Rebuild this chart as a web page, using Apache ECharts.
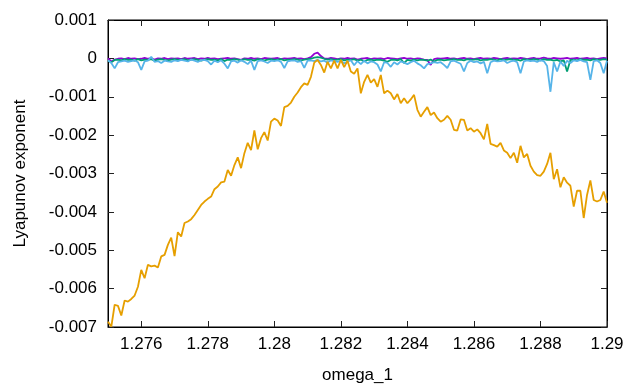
<!DOCTYPE html>
<html>
<head>
<meta charset="utf-8">
<script src="https://cdn.jsdelivr.net/npm/echarts@6/dist/echarts.min.js"></script>
<style>html,body{margin:0;padding:0;background:#fff}#c{width:631px;height:389px}</style>
</head>
<body>
<div id="c"></div>
<script>
const omega = [1.2750,1.2751,1.2752,1.2753,1.2754,1.2755,1.2756,1.2757,1.2758,1.2759,
1.2760,1.2761,1.2762,1.2763,1.2764,1.2765,1.2766,1.2767,1.2768,1.2769,
1.2770,1.2771,1.2772,1.2773,1.2774,1.2775,1.2776,1.2777,1.2778,1.2779,
1.2780,1.2781,1.2782,1.2783,1.2784,1.2785,1.2786,1.2787,1.2788,1.2789,
1.2790,1.2791,1.2792,1.2793,1.2794,1.2795,1.2796,1.2797,1.2798,1.2799,
1.2800,1.2801,1.2802,1.2803,1.2804,1.2805,1.2806,1.2807,1.2808,1.2809,
1.2810,1.2811,1.2812,1.2813,1.2814,1.2815,1.2816,1.2817,1.2818,1.2819,
1.2820,1.2821,1.2822,1.2823,1.2824,1.2825,1.2826,1.2827,1.2828,1.2829,
1.2830,1.2831,1.2832,1.2833,1.2834,1.2835,1.2836,1.2837,1.2838,1.2839,
1.2840,1.2841,1.2842,1.2843,1.2844,1.2845,1.2846,1.2847,1.2848,1.2849,
1.2850,1.2851,1.2852,1.2853,1.2854,1.2855,1.2856,1.2857,1.2858,1.2859,
1.2860,1.2861,1.2862,1.2863,1.2864,1.2865,1.2866,1.2867,1.2868,1.2869,
1.2870,1.2871,1.2872,1.2873,1.2874,1.2875,1.2876,1.2877,1.2878,1.2879,
1.2880,1.2881,1.2882,1.2883,1.2884,1.2885,1.2886,1.2887,1.2888,1.2889,
1.2890,1.2891,1.2892,1.2893,1.2894,1.2895,1.2896,1.2897,1.2898,1.2899,
1.2900];

const lyap1 = [0,-0.00008,-0.00003,-0.00001,0,-0.00002,0.00001,-0.00001,0,-0.00002,
-0.00001,0.00001,-0.00001,0,-0.00003,0,-0.00001,0.00001,-0.00002,0,
-0.00001,0,-0.00002,0.00001,-0.00001,0,0.00001,-0.00002,0,-0.00001,
0.00001,-0.00001,0,-0.00002,-0.00001,0,0.00001,-0.00001,0,-0.00002,
-0.00004,0,-0.00001,0.00001,-0.00001,0,-0.00002,0.00001,0,-0.00001,
0,0.00001,-0.00002,0,-0.00001,0,0.00001,-0.00001,0,-0.00002,
0,0.00003,0.00012,0.00015,0.00006,0,-0.00001,0.00001,0,-0.00002,
0,-0.00001,0.00001,-0.00001,0,-0.00003,-0.00001,0,0.00001,-0.00002,
0,-0.00001,0,-0.00002,0.00001,0,-0.00001,-0.00002,0,0.00001,
-0.00001,0,-0.00002,0,-0.00001,-0.00003,-0.00004,-0.00017,-0.00002,0,
-0.00001,0,0.00001,-0.00001,0,-0.00002,0,0.00001,-0.00001,0,
-0.00002,0,0.00001,-0.00001,0,-0.00001,0.00001,0,-0.00002,0,
0.00001,-0.00001,0,-0.00001,0.00001,0,-0.00002,0,0.00001,-0.00001,
0,0.00002,0,-0.00001,0.00001,0,-0.00001,0,0.00001,-0.00001,
0,0.00001,-0.00001,0,0.00001,-0.00001,0,-0.00002,0,0.00001,
0];

const lyap2 = [-0.00006,-0.0001,-0.00004,-0.00003,-0.00005,-0.00002,-0.00004,-0.00003,-0.00006,-0.00002,
-0.00005,-0.00003,-0.00004,-0.00002,-0.00006,-0.00003,-0.00002,-0.00004,-0.00005,-0.00003,
-0.00002,-0.00004,-0.00003,-0.00002,-0.00005,-0.00003,-0.00002,-0.00004,-0.00006,-0.00003,
-0.00002,-0.00004,-0.00003,-0.00005,-0.00002,-0.00007,-0.00003,-0.00004,-0.00002,-0.00003,
-0.00005,-0.00002,-0.00004,-0.00003,-0.00006,-0.00002,-0.00003,-0.00005,-0.00003,-0.00002,
-0.00004,-0.00003,-0.00002,-0.00005,-0.00003,-0.00004,-0.00002,-0.00003,-0.00005,-0.00003,
-0.00002,-0.00001,0.00002,0.00003,0.00002,-0.00001,-0.00003,-0.00002,-0.00004,-0.00003,
-0.00002,-0.00005,-0.00003,-0.00004,-0.00002,-0.00006,-0.00003,-0.00008,-0.00004,-0.00003,
-0.00005,-0.00003,-0.00004,-0.00006,-0.00009,-0.00004,-0.00003,-0.00005,-0.00002,-0.00012,
-0.00004,-0.00006,-0.00003,-0.00005,-0.00003,-0.00004,-0.00006,-0.00003,-0.00008,-0.00004,
-0.00003,-0.00005,-0.00004,-0.00003,-0.00002,-0.00004,-0.00003,-0.00005,-0.00002,-0.00004,
-0.00003,-0.00002,-0.00005,-0.00003,-0.00004,-0.00002,-0.00003,-0.00005,-0.00002,-0.00004,
-0.00003,-0.00002,-0.00004,-0.00003,-0.00006,-0.00002,-0.00003,-0.00004,-0.00002,-0.00003,
-0.00005,-0.00002,-0.00004,-0.00003,-0.00006,-0.00004,-0.00008,-0.00005,-0.00034,-0.00004,
-0.00003,-0.00005,-0.00002,-0.00004,-0.00003,-0.00005,-0.00002,-0.00003,-0.00004,-0.00002,
-0.00003];

const lyap3 = [-0.00005,-0.00012,-0.00026,-0.0001,-0.00008,-0.00006,-0.00009,-0.00007,-0.00005,-0.0001,
-0.0003,-0.00008,-0.00006,0.00004,-0.00009,-0.00007,-0.00012,-0.00006,-0.00008,-0.00009,
-0.00005,-0.00007,-0.00004,-0.00006,-0.00008,-0.00003,-0.00006,-0.00009,-0.00005,-0.00004,
-0.00007,-0.00016,-0.00006,-0.0001,-0.00005,-0.00014,-0.00026,-0.00008,-0.00006,-0.00011,
-0.00005,-0.00009,-0.00015,-0.00006,-0.0003,-0.00007,-0.00005,-0.00008,-0.00012,-0.00006,
-0.00007,-0.00005,-0.00009,-0.00025,-0.00008,-0.00006,-0.00005,-0.00009,-0.00007,-0.00025,
-0.00006,-0.00005,-0.00007,-0.00004,-0.00008,-0.00006,-0.00011,-0.00005,-0.00007,-0.00009,
-0.00006,-0.00013,-0.00008,-0.00005,-0.00018,-0.00007,-0.00015,-0.00006,-0.00013,-0.00008,
-0.0001,-0.00016,-0.00034,-0.0001,-0.00012,-0.00022,-0.0001,-0.00016,-0.00008,-0.00011,
-0.00015,-0.0001,-0.00006,-0.00013,-0.00018,-0.00026,-0.00015,-0.00013,-0.0001,-0.00012,
-0.0001,-0.00017,-0.00025,-0.00008,-0.00006,-0.0001,-0.00014,-0.00034,-0.00012,-0.00006,
-0.0001,-0.00008,-0.00013,-0.00009,-0.00039,-0.0001,-0.00006,-0.00008,-0.00007,-0.00005,
-0.00012,-0.00008,-0.00006,-0.0001,-0.00039,-0.00008,-0.00005,-0.00007,-0.00006,-0.00009,
-0.00005,-0.00007,-0.0002,-0.00087,-0.0001,-0.00034,-0.00008,-0.0002,-0.00006,-0.00012,
-0.00005,-0.00007,-0.00004,-0.00008,-0.0001,-0.00056,-0.00007,-0.00005,-0.00012,-0.00039,
-0.00006];

const lyap4 = [-0.00686,-0.00699,-0.00642,-0.00645,-0.0067,-0.00631,-0.00634,-0.00627,-0.00618,-0.00595,
-0.00551,-0.00573,-0.00538,-0.00542,-0.0054,-0.00545,-0.00516,-0.00512,-0.00486,-0.00467,
-0.00515,-0.00453,-0.00464,-0.00429,-0.00425,-0.00419,-0.00408,-0.00395,-0.00382,-0.00373,
-0.00366,-0.0036,-0.00341,-0.00334,-0.00323,-0.00321,-0.00291,-0.00306,-0.00278,-0.00258,
-0.00286,-0.00247,-0.0022,-0.00239,-0.00188,-0.00237,-0.00208,-0.00192,-0.00214,-0.00165,
-0.00157,-0.00162,-0.00176,-0.00127,-0.00124,-0.00115,-0.001,-0.00089,-0.00075,-0.00065,
-0.00069,-0.00048,-0.00011,-0.00004,-0.00017,-0.00037,-0.00009,-0.00026,-0.00006,-0.00026,
-0.00004,-0.00023,-0.00006,-0.00034,-0.0004,-0.00026,-0.00091,-0.00061,-0.00043,-0.00063,
-0.00054,-0.00074,-0.00043,-0.00091,-0.00084,-0.00091,-0.00107,-0.00093,-0.00117,-0.00104,
-0.00117,-0.00107,-0.00095,-0.00134,-0.00152,-0.00139,-0.00127,-0.00148,-0.00141,-0.00156,
-0.00165,-0.0016,-0.0015,-0.0016,-0.00186,-0.00188,-0.00159,-0.0016,-0.00188,-0.00182,
-0.00191,-0.00185,-0.00195,-0.00211,-0.00171,-0.00223,-0.00226,-0.0023,-0.0022,-0.0024,
-0.00246,-0.0026,-0.00246,-0.00272,-0.00228,-0.00258,-0.00249,-0.0028,-0.00295,-0.00304,
-0.00306,-0.00295,-0.00275,-0.00246,-0.00315,-0.00289,-0.00336,-0.0031,-0.00324,-0.00332,
-0.00386,-0.00345,-0.00345,-0.00416,-0.00356,-0.00318,-0.00369,-0.00373,-0.00369,-0.00347,
-0.00376];

const xTicks = [1.276, 1.278, 1.280, 1.282, 1.284, 1.286, 1.288, 1.290];
const seriesColors = ['#9400d3', '#009e73', '#56b4e9', '#e69f00'];
const seriesValues = [lyap1, lyap2, lyap3, lyap4];

const font = '"Liberation Sans", Arial, sans-serif';
const pair = ys => omega.map((x, i) => [x, ys[i]]);
const fmtX = v => String(Math.round(v * 1000) / 1000);
const fmtY = v => String(Math.round(v * 1000) / 1000);

const chart = echarts.init(document.getElementById('c'), null, {renderer: 'canvas'});
const tickStyle = {show: true, inside: true, length: 6, lineStyle: {color: '#222', width: 1}};
const lineStyle = {show: true, onZero: false, lineStyle: {color: '#000', width: 1}};
chart.setOption({
  animation: false,
  backgroundColor: '#fff',
  grid: {left: 108, right: 24, top: 20, bottom: 62, show: true, borderColor: '#000', borderWidth: 1, backgroundColor: 'transparent'},
  xAxis: [
    {type: 'value', min: 1.275, max: 1.29, position: 'bottom',
     name: 'omega_1', nameLocation: 'middle', nameGap: 40,
     nameTextStyle: {fontFamily: font, fontSize: 17, color: '#000'},
     axisLine: lineStyle,
     axisTick: Object.assign({customValues: xTicks}, tickStyle),
     axisLabel: {customValues: xTicks, formatter: fmtX, fontFamily: font, fontSize: 17, color: '#000', margin: 9},
     splitLine: {show: false}},
    {type: 'value', min: 1.275, max: 1.29, position: 'top',
     axisLine: lineStyle,
     axisTick: Object.assign({customValues: xTicks}, tickStyle),
     axisLabel: {show: false}, splitLine: {show: false}}
  ],
  yAxis: [
    {type: 'value', min: -0.007, max: 0.001, interval: 0.001, position: 'left',
     name: 'Lyapunov exponent', nameLocation: 'middle', nameGap: 79, nameRotate: 90,
     nameTextStyle: {fontFamily: font, fontSize: 17, color: '#000'},
     axisLine: lineStyle,
     axisTick: tickStyle,
     axisLabel: {formatter: fmtY, fontFamily: font, fontSize: 17, color: '#000', margin: 11},
     splitLine: {show: false}},
    {type: 'value', min: -0.007, max: 0.001, interval: 0.001, position: 'right',
     axisLine: lineStyle,
     axisTick: tickStyle, axisLabel: {show: false}, splitLine: {show: false}}
  ],
  series: seriesValues.map((vals, k) => ({
    type: 'line', data: pair(vals), showSymbol: false, symbol: 'none',
    lineStyle: {color: seriesColors[k], width: 1.8}, itemStyle: {color: seriesColors[k]},
    z: 2 + k, clip: true
  }))
});
</script>
</body>
</html>
